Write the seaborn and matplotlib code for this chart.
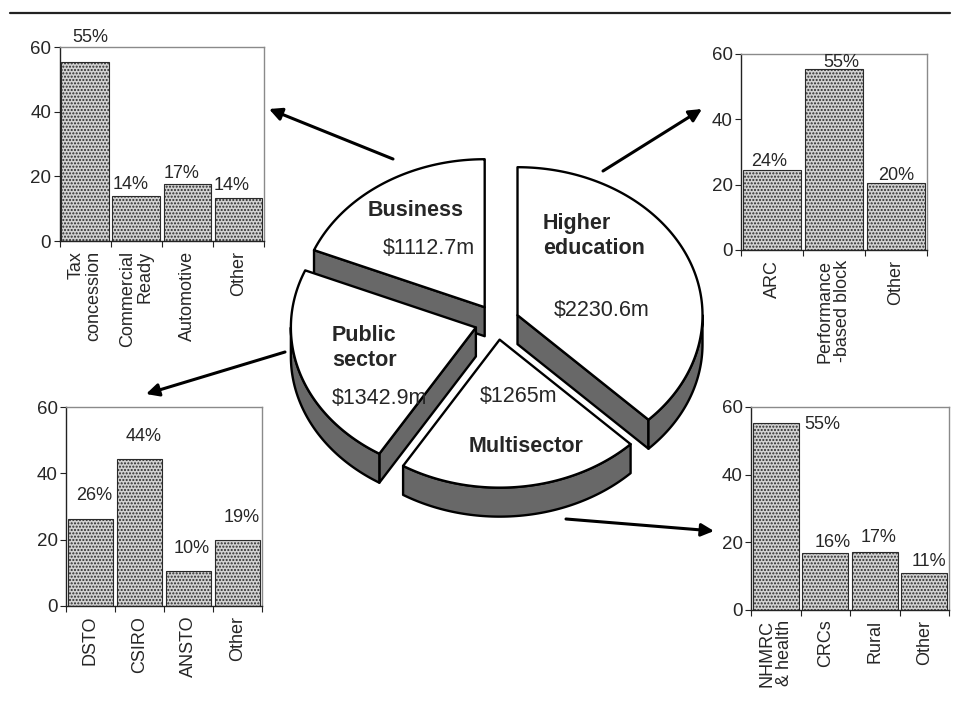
import numpy as np
import matplotlib
matplotlib.use("Agg")
import matplotlib.pyplot as plt
from matplotlib.patches import Polygon
import seaborn as sns

# R&D funding by sector ($m), pie order clockwise from 12 o'clock
sectors = ["Higher education", "Multisector", "Public sector", "Business"]
funding = [2230.6, 1265.0, 1342.9, 1112.7]

# breakdown of each sector (%)
business_cats = ["Tax\nconcession", "Commercial\nReady", "Automotive", "Other"]
business_pct = [55.5, 13.9, 17.6, 13.4]
business_txt = ["55%", "14%", "17%", "14%"]

higher_cats = ["ARC", "Performance\n-based block", "Other"]
higher_pct = [24.5, 55.5, 20.4]
higher_txt = ["24%", "55%", "20%"]

public_cats = ["DSTO", "CSIRO", "ANSTO", "Other"]
public_pct = [26.3, 44.4, 10.5, 19.8]
public_txt = ["26%", "44%", "10%", "19%"]

multi_cats = ["NHMRC\n& health", "CRCs", "Rural", "Other"]
multi_pct = [55.3, 16.7, 17.2, 10.8]
multi_txt = ["55%", "16%", "17%", "11%"]

sns.set_style("ticks")
plt.rcParams["font.family"] = ["Liberation Sans", "DejaVu Sans"]

W, H = 959, 702
fig = plt.figure(figsize=(W / 100, H / 100), dpi=100)

# overlay in pixel coords for the pie, arrows and rule
ov = fig.add_axes([0, 0, 1, 1])
ov.set_xlim(0, W)
ov.set_ylim(H, 0)
ov.axis("off")
ov.plot([10, 950], [13, 13], color="#222222", lw=1.6)

# ---- 3D exploded pie ----
cx, cy = 497, 322
rx, ry = 185, 148
explode = 0.12
depth = 29
wall = "#686868"
olw = 1.7


def rim(c, a, drop=0):
    t = np.radians(a)
    return (c[0] + rx * np.cos(t), c[1] - ry * np.sin(t) + drop)


frac = np.array(funding) / sum(funding)
edges = 90 - 360 * np.concatenate([[0], np.cumsum(frac)])
slices = []
for i in range(len(funding)):
    a0, a1 = edges[i + 1], edges[i]
    mid = np.radians((a0 + a1) / 2)
    c = (cx + explode * rx * np.cos(mid), cy - explode * ry * np.sin(mid))
    slices.append((c, a0, a1))

for c, a0, a1 in sorted(slices, key=lambda s: s[0][1]):
    # radial side faces facing the viewer
    for a, nrm in [(a1, a1 + 90), (a0, a0 - 90)]:
        if np.sin(np.radians(nrm)) < -1e-6:
            p = rim(c, a)
            face = [c, p, (p[0], p[1] + depth), (c[0], c[1] + depth)]
            ov.add_patch(Polygon(face, closed=True, fc=wall, ec="black",
                                 lw=olw, joinstyle="round"))
    # outer rim wall on the front half
    lo, hi = max(a0, -180), min(a1, 0)
    if lo < hi:
        ts = np.linspace(lo, hi, 80)
        top = [rim(c, t) for t in ts]
        bot = [rim(c, t, depth) for t in ts[::-1]]
        ov.add_patch(Polygon(top + bot, closed=True, fc=wall, ec="black",
                             lw=olw, joinstyle="round"))
    # top face
    ts = np.linspace(a0, a1, 150)
    pts = [c] + [rim(c, t) for t in ts]
    ov.add_patch(Polygon(pts, closed=True, fc="white", ec="black",
                         lw=olw, joinstyle="round"))

val = {s: "\\$" + f"{v:g}" + "m" for s, v in zip(sectors, funding)}
fs_pie = 15.5
ov.text(416, 211, "Business", fontsize=fs_pie, weight="bold", ha="center", va="center")
ov.text(429, 249, val["Business"], fontsize=fs_pie, ha="center", va="center")
ov.text(543, 236, "Higher\neducation", fontsize=fs_pie, weight="bold", ha="left", va="center")
ov.text(602, 310, val["Higher education"], fontsize=fs_pie, ha="center", va="center")
ov.text(332, 348, "Public\nsector", fontsize=fs_pie, weight="bold", ha="left", va="center")
ov.text(332, 398, val["Public sector"], fontsize=fs_pie, ha="left", va="center")
ov.text(519, 397, val["Multisector"], fontsize=fs_pie, ha="center", va="center")
ov.text(526, 446, "Multisector", fontsize=fs_pie, weight="bold", ha="center", va="center")

# arrows from the pie to each breakdown
arrow = dict(arrowstyle="-|>", lw=2.2, color="black", mutation_scale=19,
             shrinkA=0, shrinkB=0)
ov.annotate("", xy=(269, 109), xytext=(393, 159), arrowprops=arrow)
ov.annotate("", xy=(702, 109), xytext=(603, 171), arrowprops=arrow)
ov.annotate("", xy=(146, 394), xytext=(285, 352), arrowprops=arrow)
ov.annotate("", xy=(714, 531), xytext=(566, 519), arrowprops=arrow)


# ---- bar panels ----
def bar_panel(box, cats, vals, txt, offs, malign="center"):
    l, t, r, b = box
    ax = fig.add_axes([l / W, 1 - b / H, (r - l) / W, (b - t) / H])
    sns.barplot(x=cats, y=vals, ax=ax, color="#d2d2d2", saturation=1,
                width=0.93, edgecolor="#2a2a2a", linewidth=0.8, hatch=".....")
    ax.set_ylim(0, 60)
    ax.set_yticks([0, 20, 40, 60])
    ax.set_xlabel("")
    ax.set_ylabel("")
    ax.set_xticks(np.arange(len(cats) + 1) - 0.5, minor=True)
    ax.tick_params(axis="x", which="major", length=0, pad=7, labelsize=13,
                   labelrotation=90)
    ax.tick_params(axis="x", which="minor", length=4, width=0.8, color="#222222")
    ax.tick_params(axis="y", length=4, width=0.8, labelsize=13.5, pad=2,
                   color="#222222")
    for lab in ax.get_xticklabels():
        lab.set_multialignment(malign)
        lab.set_linespacing(1.05)
    for s in ["top", "right"]:
        ax.spines[s].set_color("#8a8a8a")
        ax.spines[s].set_linewidth(1.0)
    for s in ["left", "bottom"]:
        ax.spines[s].set_color("#222222")
        ax.spines[s].set_linewidth(1.0)
    for i, (v, s) in enumerate(zip(vals, txt)):
        ax.annotate(s, xy=(i, v), xytext=offs[i], textcoords="offset pixels",
                    ha="center", va="center", fontsize=13,
                    annotation_clip=False)
    return ax


bar_panel((59.5, 47, 264, 241), business_cats, business_pct, business_txt,
          [(5, 24), (-6, 12), (-6, 11), (-7, 12)], malign="right")
bar_panel((741, 54, 927, 250), higher_cats, higher_pct, higher_txt,
          [(-3, 8), (7, 6), (0, 8)])
bar_panel((66, 407, 262, 606), public_cats, public_pct, public_txt,
          [(4, 23), (4, 22), (3, 23), (4, 23)])
bar_panel((751, 407, 949, 610), multi_cats, multi_pct, multi_txt,
          [(47, -2), (7, 11), (4, 14), (5, 12)])

fig.savefig("out.png", dpi=100)
